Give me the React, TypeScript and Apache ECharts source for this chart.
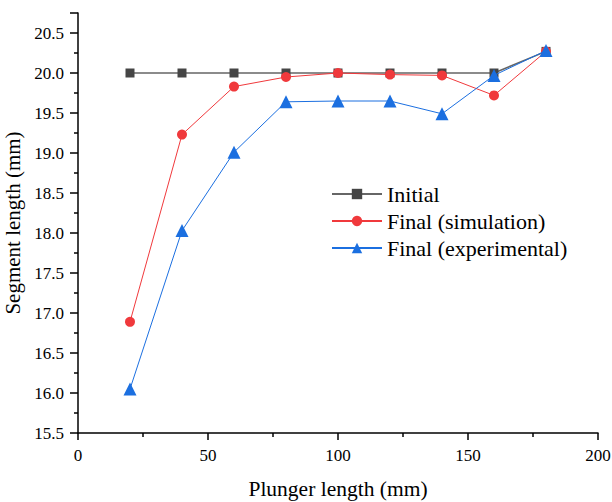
import React, { useEffect, useRef } from "react";
import * as echarts from "echarts";

const plungerLength = [20, 40, 60, 80, 100, 120, 140, 160, 180];
const initialLen = [20.0, 20.0, 20.0, 20.0, 20.0, 20.0, 20.0, 20.0, 20.27];
const finalSim = [16.89, 19.23, 19.83, 19.95, 20.0, 19.98, 19.97, 19.72, 20.27];
const finalExp = [16.05, 18.03, 19.01, 19.64, 19.65, 19.65, 19.49, 19.97, 20.28];
const seriesNames = ["Initial", "Final (simulation)", "Final (experimental)"];

const FONT = '"Liberation Serif", "Times New Roman", serif';

export default function App() {
  const ref = useRef<HTMLDivElement>(null);
  useEffect(() => {
    const chart = echarts.init(ref.current!, null, { renderer: "svg" });
    const pair = (ys: number[]) => plungerLength.map((x, i) => [x, ys[i]]);
    chart.setOption({
      animation: false,
      backgroundColor: "#ffffff",
      grid: { left: 78, right: 14, top: 13, bottom: 69, outerBoundsMode: "none", containLabel: false },
      legend: {
        orient: "vertical",
        left: 331,
        top: 183,
        padding: 0,
        itemWidth: 50,
        itemHeight: 13,
        itemGap: 5,
        textStyle: { fontFamily: FONT, fontSize: 22, color: "#000" },
        data: seriesNames,
      },
      xAxis: {
        type: "value",
        min: 0,
        max: 200,
        interval: 50,
        name: "Plunger length (mm)",
        nameLocation: "middle",
        nameGap: 45,
        nameTextStyle: { fontFamily: FONT, fontSize: 21.5, color: "#000" },
        axisLine: { onZero: false, lineStyle: { color: "#000", width: 1.5 } },
        axisTick: { inside: false, length: 7, lineStyle: { color: "#000", width: 1.5 } },
        minorTick: { show: true, splitNumber: 2, length: 4, lineStyle: { color: "#000", width: 1.5 } },
        axisLabel: { fontFamily: FONT, fontSize: 17, color: "#000", margin: 14 },
        splitLine: { show: false },
      },
      yAxis: {
        type: "value",
        min: 15.5,
        max: 20.75,
        interval: 0.5,
        name: "Segment length (mm)",
        nameLocation: "middle",
        nameGap: 47,
        nameRotate: 90,
        nameTextStyle: { fontFamily: FONT, fontSize: 21, color: "#000" },
        axisLine: { onZero: false, lineStyle: { color: "#000", width: 1.5 } },
        axisTick: { inside: false, length: 8, lineStyle: { color: "#000", width: 1.5 } },
        minorTick: { show: true, splitNumber: 2, length: 4, lineStyle: { color: "#000", width: 1.5 } },
        axisLabel: {
          fontFamily: FONT,
          fontSize: 17,
          color: "#000",
          margin: 14,
          formatter: (v: number) => (v > 20.6 ? "" : v.toFixed(1)),
        },
        splitLine: { show: false },
      },
      series: [
        {
          name: seriesNames[0],
          type: "line",
          data: pair(initialLen),
          symbol: "rect",
          symbolSize: 9,
          itemStyle: { color: "#454545" },
          lineStyle: { color: "#666666", width: 1.5 },
          z: 2,
        },
        {
          name: seriesNames[1],
          type: "line",
          data: pair(finalSim),
          symbol: "circle",
          symbolSize: 10,
          itemStyle: { color: "#f0393c" },
          lineStyle: { color: "#f0393c", width: 1 },
          z: 3,
        },
        {
          name: seriesNames[2],
          type: "line",
          data: pair(finalExp),
          symbol: "triangle",
          symbolSize: 13,
          itemStyle: { color: "#1b6fe0" },
          lineStyle: { color: "#1b6fe0", width: 1 },
          z: 4,
        },
      ],
    });
    return () => chart.dispose();
  }, []);
  return <div ref={ref} style={{ width: 612, height: 502, position: "absolute", left: 0, top: 0 }} />;
}
